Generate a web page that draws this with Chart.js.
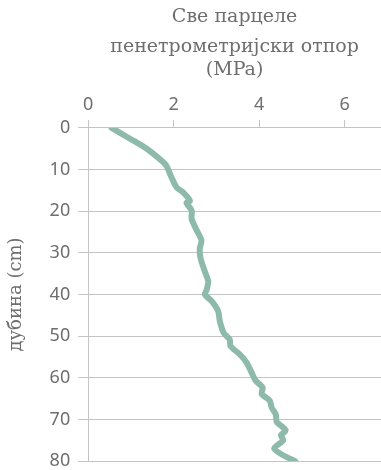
<!DOCTYPE html>
<html>
<head>
<meta charset="utf-8">
<script src="https://cdn.jsdelivr.net/npm/chart.js@4"></script>
<style>
  html, body { margin: 0; padding: 0; background: #fff; }
  #wrap { width: 381px; height: 470px; }
</style>
</head>
<body>
<div id="wrap"><canvas id="chart"></canvas></div>
<script>
// дубина (cm) и пенетрометријски отпор (MPa)
const depth = [0, 2.6, 5, 7.9, 9.1, 11.9, 14.3, 15.5, 17.5, 18, 19.8, 21.8, 24.2, 27, 29, 31.4, 34.5, 36.9, 38.9, 40,
  41.6, 44, 46.4, 49.2, 50.8, 52.4, 54.4, 56.4, 58.7, 60.7, 62.3, 63.9, 65.5, 67.1, 68.8, 70.6, 72.6, 73.8, 75, 77, 78.6, 80];
const resistance = [0.55, 0.98, 1.37, 1.72, 1.83, 1.95, 2.07, 2.22, 2.38, 2.30, 2.42, 2.42, 2.52, 2.65, 2.61, 2.63, 2.73, 2.81, 2.77, 2.73,
  2.89, 3.04, 3.08, 3.17, 3.31, 3.33, 3.55, 3.71, 3.82, 3.92, 4.08, 4.06, 4.25, 4.29, 4.39, 4.41, 4.62, 4.51, 4.56, 4.35, 4.56, 4.84];
const xTicks = [0, 2, 4, 6];
const yTicks = [0, 10, 20, 30, 40, 50, 60, 70, 80];

const textColor = "#6e6e6e";
const gridColor = "#c4c4c4";
const lineColor = "#8ebaac";
const serif = "'DejaVu Serif', serif";
const sans = "'Noto Sans', sans-serif";

const points = depth.map((d, i) => ({ x: resistance[i], y: d }));

new Chart(document.getElementById("chart"), {
  type: "scatter",
  data: {
    datasets: [
      {
        label: "Све парцеле",
        data: points,
        showLine: true,
        borderColor: lineColor,
        borderWidth: 6,
        tension: 0.25,
        pointRadius: 0,
        borderCapStyle: "round",
        borderJoinStyle: "round",
      },
    ],
  },
  options: {
    responsive: true,
    maintainAspectRatio: false,
    animation: false,
    layout: { padding: { top: 4, right: 0, bottom: 0, left: 6 } },
    scales: {
      x: {
        position: "top",
        min: 0,
        max: 6.85,
        afterBuildTicks: (axis) => {
          axis.ticks = xTicks.map((v) => ({ value: v }));
        },
        title: {
          display: true,
          text: ["пенетрометријски отпор", "(MPa)"],
          color: textColor,
          font: { family: serif, size: 19, lineHeight: 1.25 },
          padding: { top: 0, bottom: 8 },
        },
        ticks: { color: textColor, font: { family: sans, size: 18 }, padding: 4 },
        grid: { drawOnChartArea: false, color: gridColor, tickLength: 8 },
        border: { color: gridColor },
      },
      y: {
        reverse: true,
        min: 0,
        max: 80,
        afterBuildTicks: (axis) => {
          axis.ticks = yTicks.map((v) => ({ value: v }));
        },
        title: {
          display: true,
          text: "дубина (cm)",
          color: textColor,
          font: { family: serif, size: 18 },
          padding: { top: 0, bottom: 14 },
        },
        // tiny lineHeight only trims the space reserved under the last label
        ticks: { color: textColor, font: { family: sans, size: 18, lineHeight: 0.1 }, padding: 8 },
        grid: { color: gridColor, tickLength: 10 },
        border: { color: gridColor },
      },
    },
    plugins: {
      legend: { display: false },
      tooltip: { enabled: false },
      title: {
        display: true,
        text: "Све парцеле",
        fullSize: false,
        color: textColor,
        font: { family: serif, size: 19, weight: "normal" },
        padding: { top: 2, bottom: 6 },
      },
    },
  },
});
</script>
</body>
</html>
